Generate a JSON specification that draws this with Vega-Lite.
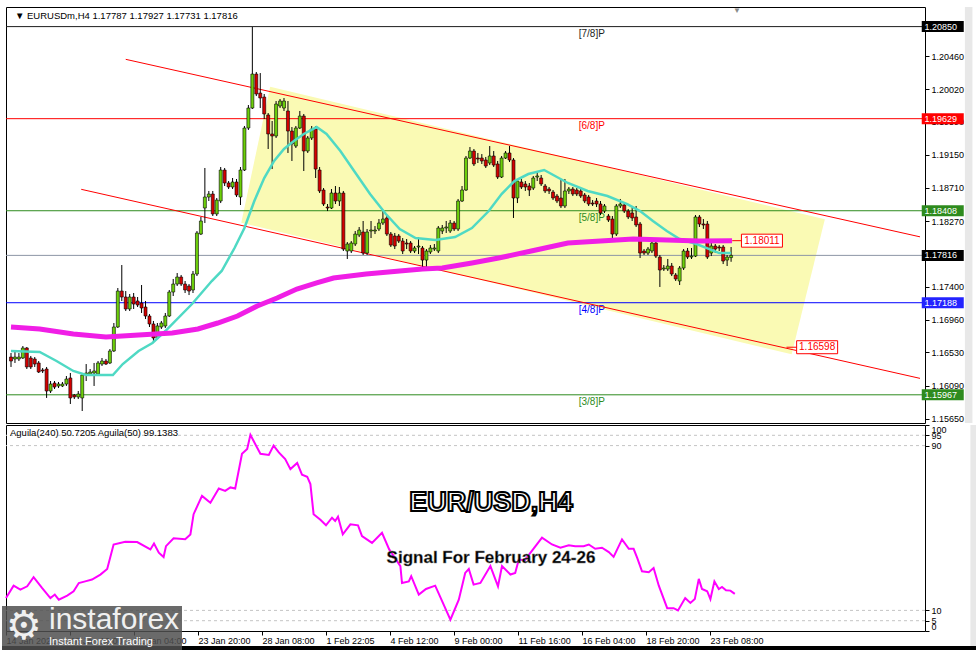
{
"$schema":"https://vega.github.io/schema/vega-lite/v6.json",
"background":"white",
"padding":{"left":0,"top":6,"right":0,"bottom":0},
"spacing":2,
"bounds":"flush",
"config":{"view":{"stroke":"#000","strokeWidth":1},"font":"Liberation Sans","text":{"font":"Liberation Sans"},"axis":{"labelOverlap":false,"labelBound":false}},
"datasets":{
"candles":[
{"i":0,"o":1.16468,"h":1.16521,"l":1.16336,"c":1.16415},
{"i":1,"o":1.16442,"h":1.16548,"l":1.16389,"c":1.16468},
{"i":2,"o":1.16442,"h":1.16521,"l":1.16415,"c":1.16468},
{"i":3,"o":1.16455,"h":1.16614,"l":1.16442,"c":1.16588},
{"i":4,"o":1.16588,"h":1.16601,"l":1.16309,"c":1.16336},
{"i":5,"o":1.16455,"h":1.16482,"l":1.16309,"c":1.16336},
{"i":6,"o":1.16442,"h":1.16468,"l":1.16336,"c":1.16375},
{"i":7,"o":1.16389,"h":1.16415,"l":1.16256,"c":1.16269},
{"i":8,"o":1.16296,"h":1.16322,"l":1.16256,"c":1.16283},
{"i":9,"o":1.16309,"h":1.16336,"l":1.15925,"c":1.16017},
{"i":10,"o":1.16017,"h":1.1615,"l":1.15991,"c":1.1611},
{"i":11,"o":1.16123,"h":1.1615,"l":1.16044,"c":1.1607},
{"i":12,"o":1.16084,"h":1.16137,"l":1.16057,"c":1.1611},
{"i":13,"o":1.16084,"h":1.16137,"l":1.1607,"c":1.1611},
{"i":14,"o":1.1611,"h":1.16216,"l":1.16084,"c":1.16176},
{"i":15,"o":1.1619,"h":1.16256,"l":1.15845,"c":1.15925},
{"i":16,"o":1.15964,"h":1.15978,"l":1.15911,"c":1.15938},
{"i":17,"o":1.15938,"h":1.16017,"l":1.15911,"c":1.15978},
{"i":18,"o":1.15925,"h":1.16256,"l":1.15752,"c":1.16229},
{"i":19,"o":1.16229,"h":1.16375,"l":1.1615,"c":1.16256},
{"i":20,"o":1.16243,"h":1.16309,"l":1.16229,"c":1.16269},
{"i":21,"o":1.16256,"h":1.16389,"l":1.16084,"c":1.16283},
{"i":22,"o":1.16243,"h":1.16415,"l":1.16229,"c":1.16389},
{"i":23,"o":1.16375,"h":1.16455,"l":1.16349,"c":1.16415},
{"i":24,"o":1.16415,"h":1.16442,"l":1.16362,"c":1.16375},
{"i":25,"o":1.16389,"h":1.16574,"l":1.16375,"c":1.16548},
{"i":26,"o":1.16548,"h":1.16919,"l":1.16535,"c":1.16866},
{"i":27,"o":1.16866,"h":1.17383,"l":1.16853,"c":1.17343},
{"i":28,"o":1.17343,"h":1.17688,"l":1.17211,"c":1.17264},
{"i":29,"o":1.17264,"h":1.17343,"l":1.17078,"c":1.17105},
{"i":30,"o":1.17105,"h":1.17304,"l":1.17078,"c":1.17264},
{"i":31,"o":1.17264,"h":1.17317,"l":1.17105,"c":1.17171},
{"i":32,"o":1.17211,"h":1.17264,"l":1.17131,"c":1.17158},
{"i":33,"o":1.17184,"h":1.17423,"l":1.17052,"c":1.17118},
{"i":34,"o":1.17131,"h":1.17211,"l":1.16972,"c":1.17012},
{"i":35,"o":1.17012,"h":1.17038,"l":1.16866,"c":1.16906},
{"i":36,"o":1.16906,"h":1.16946,"l":1.16681,"c":1.1672},
{"i":37,"o":1.1672,"h":1.16919,"l":1.16707,"c":1.1688},
{"i":38,"o":1.16866,"h":1.16946,"l":1.1684,"c":1.16919},
{"i":39,"o":1.1688,"h":1.17052,"l":1.16853,"c":1.17012},
{"i":40,"o":1.17012,"h":1.17357,"l":1.16999,"c":1.1733},
{"i":41,"o":1.1733,"h":1.17503,"l":1.17277,"c":1.17436},
{"i":42,"o":1.17436,"h":1.17582,"l":1.1741,"c":1.17529},
{"i":43,"o":1.17529,"h":1.17556,"l":1.1741,"c":1.17436},
{"i":44,"o":1.17436,"h":1.17476,"l":1.17317,"c":1.17357},
{"i":45,"o":1.1741,"h":1.17436,"l":1.1729,"c":1.17343},
{"i":46,"o":1.17357,"h":1.17609,"l":1.17317,"c":1.17569},
{"i":47,"o":1.17569,"h":1.18139,"l":1.17542,"c":1.18113},
{"i":48,"o":1.18099,"h":1.18325,"l":1.18086,"c":1.18272},
{"i":49,"o":1.18444,"h":1.18975,"l":1.18245,"c":1.1859},
{"i":50,"o":1.1859,"h":1.1867,"l":1.18537,"c":1.1863},
{"i":51,"o":1.1863,"h":1.1867,"l":1.18338,"c":1.18365},
{"i":52,"o":1.18365,"h":1.18577,"l":1.18338,"c":1.1855},
{"i":53,"o":1.18537,"h":1.18988,"l":1.1851,"c":1.18948},
{"i":54,"o":1.18948,"h":1.18975,"l":1.18736,"c":1.18776},
{"i":55,"o":1.18776,"h":1.18802,"l":1.18696,"c":1.18723},
{"i":56,"o":1.18723,"h":1.18842,"l":1.18696,"c":1.18789},
{"i":57,"o":1.18789,"h":1.18829,"l":1.1859,"c":1.18617},
{"i":58,"o":1.1859,"h":1.18988,"l":1.18484,"c":1.18948},
{"i":59,"o":1.18948,"h":1.19532,"l":1.18935,"c":1.19505},
{"i":60,"o":1.19505,"h":1.1981,"l":1.19479,"c":1.1977},
{"i":61,"o":1.1977,"h":1.20845,"l":1.19757,"c":1.20221},
{"i":62,"o":1.20221,"h":1.20248,"l":1.19929,"c":1.19956},
{"i":63,"o":1.19969,"h":1.20234,"l":1.1977,"c":1.19903},
{"i":64,"o":1.19916,"h":1.19956,"l":1.19625,"c":1.19691},
{"i":65,"o":1.19678,"h":1.19704,"l":1.19227,"c":1.19426},
{"i":66,"o":1.19426,"h":1.19598,"l":1.18961,"c":1.19399},
{"i":67,"o":1.19399,"h":1.19863,"l":1.19373,"c":1.19823},
{"i":68,"o":1.19797,"h":1.1989,"l":1.1977,"c":1.19863},
{"i":69,"o":1.1977,"h":1.19903,"l":1.19731,"c":1.19863},
{"i":70,"o":1.19731,"h":1.19863,"l":1.19174,"c":1.19465},
{"i":71,"o":1.19465,"h":1.19518,"l":1.19068,"c":1.19293},
{"i":72,"o":1.19266,"h":1.19532,"l":1.1924,"c":1.19505},
{"i":73,"o":1.19505,"h":1.19731,"l":1.19492,"c":1.19664},
{"i":74,"o":1.19664,"h":1.19691,"l":1.18935,"c":1.192},
{"i":75,"o":1.192,"h":1.19399,"l":1.19174,"c":1.19373},
{"i":76,"o":1.19373,"h":1.19532,"l":1.19346,"c":1.19492},
{"i":77,"o":1.19492,"h":1.19532,"l":1.18842,"c":1.18961},
{"i":78,"o":1.18948,"h":1.18988,"l":1.18643,"c":1.1867},
{"i":79,"o":1.18683,"h":1.18709,"l":1.18471,"c":1.18497},
{"i":80,"o":1.18457,"h":1.18497,"l":1.18404,"c":1.18444},
{"i":81,"o":1.18444,"h":1.18696,"l":1.18431,"c":1.18643},
{"i":82,"o":1.18643,"h":1.18736,"l":1.18497,"c":1.18537},
{"i":83,"o":1.18537,"h":1.18723,"l":1.18471,"c":1.18643},
{"i":84,"o":1.18643,"h":1.1867,"l":1.17874,"c":1.179},
{"i":85,"o":1.17874,"h":1.17993,"l":1.17768,"c":1.17967},
{"i":86,"o":1.17874,"h":1.18006,"l":1.17847,"c":1.1798},
{"i":87,"o":1.17967,"h":1.18139,"l":1.1794,"c":1.18099},
{"i":88,"o":1.18086,"h":1.18192,"l":1.18059,"c":1.18152},
{"i":89,"o":1.18126,"h":1.18272,"l":1.17821,"c":1.17847},
{"i":90,"o":1.17847,"h":1.18166,"l":1.17821,"c":1.18126},
{"i":91,"o":1.18139,"h":1.18272,"l":1.18046,"c":1.18152},
{"i":92,"o":1.18139,"h":1.18205,"l":1.18099,"c":1.18152},
{"i":93,"o":1.18166,"h":1.18298,"l":1.18139,"c":1.18245},
{"i":94,"o":1.18245,"h":1.18404,"l":1.18219,"c":1.18298},
{"i":95,"o":1.18312,"h":1.18351,"l":1.18073,"c":1.18099},
{"i":96,"o":1.18099,"h":1.18126,"l":1.17927,"c":1.17953},
{"i":97,"o":1.18073,"h":1.18113,"l":1.179,"c":1.1794},
{"i":98,"o":1.18073,"h":1.18099,"l":1.1798,"c":1.18006},
{"i":99,"o":1.18006,"h":1.18046,"l":1.17834,"c":1.17874},
{"i":100,"o":1.1798,"h":1.18033,"l":1.179,"c":1.17967},
{"i":101,"o":1.1798,"h":1.18006,"l":1.17847,"c":1.17874},
{"i":102,"o":1.17874,"h":1.1794,"l":1.17847,"c":1.17914},
{"i":103,"o":1.17927,"h":1.18059,"l":1.17834,"c":1.1794},
{"i":104,"o":1.17914,"h":1.1794,"l":1.17662,"c":1.17754},
{"i":105,"o":1.17754,"h":1.179,"l":1.17662,"c":1.17874},
{"i":106,"o":1.17861,"h":1.17953,"l":1.17834,"c":1.17914},
{"i":107,"o":1.179,"h":1.17967,"l":1.17874,"c":1.17914},
{"i":108,"o":1.17874,"h":1.18205,"l":1.17847,"c":1.18179},
{"i":109,"o":1.18139,"h":1.18219,"l":1.18099,"c":1.18179},
{"i":110,"o":1.18179,"h":1.18272,"l":1.18113,"c":1.18192},
{"i":111,"o":1.18139,"h":1.18285,"l":1.18113,"c":1.18245},
{"i":112,"o":1.18245,"h":1.18272,"l":1.18139,"c":1.18166},
{"i":113,"o":1.18166,"h":1.18564,"l":1.18139,"c":1.18537},
{"i":114,"o":1.18537,"h":1.18736,"l":1.18524,"c":1.18683},
{"i":115,"o":1.18683,"h":1.19134,"l":1.1867,"c":1.19107},
{"i":116,"o":1.19107,"h":1.19253,"l":1.19094,"c":1.192},
{"i":117,"o":1.192,"h":1.19227,"l":1.19001,"c":1.19028},
{"i":118,"o":1.19107,"h":1.19174,"l":1.19041,"c":1.19094},
{"i":119,"o":1.19107,"h":1.1916,"l":1.19028,"c":1.19068},
{"i":120,"o":1.19081,"h":1.19121,"l":1.18975,"c":1.19001},
{"i":121,"o":1.19041,"h":1.19266,"l":1.19014,"c":1.19134},
{"i":122,"o":1.19134,"h":1.192,"l":1.18988,"c":1.19014},
{"i":123,"o":1.19028,"h":1.19068,"l":1.18829,"c":1.18855},
{"i":124,"o":1.18855,"h":1.19134,"l":1.18842,"c":1.19107},
{"i":125,"o":1.19107,"h":1.192,"l":1.19094,"c":1.19174},
{"i":126,"o":1.19174,"h":1.19266,"l":1.19054,"c":1.19081},
{"i":127,"o":1.19081,"h":1.19107,"l":1.18312,"c":1.18577},
{"i":128,"o":1.18577,"h":1.18829,"l":1.1851,"c":1.18802},
{"i":129,"o":1.18789,"h":1.18829,"l":1.18696,"c":1.18723},
{"i":130,"o":1.18763,"h":1.18802,"l":1.1867,"c":1.18723},
{"i":131,"o":1.18736,"h":1.18776,"l":1.18603,"c":1.18683},
{"i":132,"o":1.18709,"h":1.18869,"l":1.18683,"c":1.18842},
{"i":133,"o":1.18855,"h":1.18908,"l":1.18802,"c":1.18869},
{"i":134,"o":1.18842,"h":1.18882,"l":1.18736,"c":1.18763},
{"i":135,"o":1.18736,"h":1.18763,"l":1.18643,"c":1.1867},
{"i":136,"o":1.18696,"h":1.18723,"l":1.1863,"c":1.1867},
{"i":137,"o":1.18656,"h":1.18683,"l":1.1855,"c":1.18577},
{"i":138,"o":1.18603,"h":1.1863,"l":1.1851,"c":1.18537},
{"i":139,"o":1.18577,"h":1.18829,"l":1.18444,"c":1.18471},
{"i":140,"o":1.18471,"h":1.18829,"l":1.18444,"c":1.1867},
{"i":141,"o":1.1867,"h":1.18723,"l":1.1863,"c":1.18696},
{"i":142,"o":1.18696,"h":1.18723,"l":1.18603,"c":1.1863},
{"i":143,"o":1.18683,"h":1.18709,"l":1.18603,"c":1.1863},
{"i":144,"o":1.1867,"h":1.18696,"l":1.18577,"c":1.18603},
{"i":145,"o":1.18617,"h":1.18643,"l":1.1851,"c":1.18537},
{"i":146,"o":1.1859,"h":1.18617,"l":1.18471,"c":1.18497},
{"i":147,"o":1.1851,"h":1.1855,"l":1.18471,"c":1.18497},
{"i":148,"o":1.18537,"h":1.18577,"l":1.18457,"c":1.18497},
{"i":149,"o":1.18497,"h":1.18537,"l":1.18351,"c":1.18378},
{"i":150,"o":1.18404,"h":1.18497,"l":1.18378,"c":1.18471},
{"i":151,"o":1.18338,"h":1.18365,"l":1.18259,"c":1.18285},
{"i":152,"o":1.18298,"h":1.18338,"l":1.18046,"c":1.18099},
{"i":153,"o":1.18099,"h":1.18497,"l":1.18073,"c":1.18471},
{"i":154,"o":1.18471,"h":1.18564,"l":1.18444,"c":1.18497},
{"i":155,"o":1.18484,"h":1.1851,"l":1.18378,"c":1.18404},
{"i":156,"o":1.18404,"h":1.18431,"l":1.18298,"c":1.18325},
{"i":157,"o":1.18378,"h":1.18471,"l":1.18272,"c":1.18312},
{"i":158,"o":1.18325,"h":1.18471,"l":1.18192,"c":1.18219},
{"i":159,"o":1.18232,"h":1.18259,"l":1.17781,"c":1.17847},
{"i":160,"o":1.17874,"h":1.179,"l":1.17821,"c":1.17847},
{"i":161,"o":1.17847,"h":1.17927,"l":1.17821,"c":1.179},
{"i":162,"o":1.17874,"h":1.18006,"l":1.17847,"c":1.1798},
{"i":163,"o":1.1798,"h":1.18033,"l":1.17781,"c":1.17807},
{"i":164,"o":1.17794,"h":1.17821,"l":1.17397,"c":1.17622},
{"i":165,"o":1.17635,"h":1.17688,"l":1.17609,"c":1.17648},
{"i":166,"o":1.17635,"h":1.17768,"l":1.17609,"c":1.17675},
{"i":167,"o":1.17675,"h":1.17715,"l":1.17542,"c":1.17569},
{"i":168,"o":1.17556,"h":1.17582,"l":1.17476,"c":1.17503},
{"i":169,"o":1.17476,"h":1.17675,"l":1.17423,"c":1.17648},
{"i":170,"o":1.17648,"h":1.179,"l":1.17622,"c":1.17874},
{"i":171,"o":1.17874,"h":1.17914,"l":1.17768,"c":1.17794},
{"i":172,"o":1.17794,"h":1.17914,"l":1.17768,"c":1.17807},
{"i":173,"o":1.17807,"h":1.18351,"l":1.17794,"c":1.18325},
{"i":174,"o":1.18325,"h":1.18351,"l":1.18192,"c":1.18232},
{"i":175,"o":1.18232,"h":1.18298,"l":1.18166,"c":1.18219},
{"i":176,"o":1.18232,"h":1.18272,"l":1.17768,"c":1.17794},
{"i":177,"o":1.17847,"h":1.18006,"l":1.17807,"c":1.1794},
{"i":178,"o":1.1794,"h":1.17967,"l":1.17847,"c":1.179},
{"i":179,"o":1.17927,"h":1.17953,"l":1.17874,"c":1.17914},
{"i":180,"o":1.17927,"h":1.17953,"l":1.17701,"c":1.17741},
{"i":181,"o":1.17754,"h":1.17821,"l":1.17675,"c":1.17794},
{"i":182,"o":1.17787,"h":1.17927,"l":1.17731,"c":1.17816}
],
"cyan":[
{"i":0,"p":1.16548},{"i":7.25,"p":1.16535},{"i":11.5,"p":1.16415},{"i":15.75,"p":1.16283},{"i":19,"p":1.16229},{"i":25.75,"p":1.16229},{"i":28.25,"p":1.16375},{"i":32.25,"p":1.16548},{"i":35.75,"p":1.16654},{"i":39,"p":1.16813},{"i":45.75,"p":1.17171},{"i":50.75,"p":1.17476},{"i":53.25,"p":1.17609},{"i":56.5,"p":1.17914},{"i":59,"p":1.18179},{"i":61.5,"p":1.18537},{"i":64,"p":1.18842},{"i":66.5,"p":1.19068},{"i":69,"p":1.19227},{"i":71.5,"p":1.19333},{"i":74,"p":1.19426},{"i":77.25,"p":1.19518},{"i":79.75,"p":1.19426},{"i":83.25,"p":1.192},{"i":87.25,"p":1.18895},{"i":90.75,"p":1.1863},{"i":94.75,"p":1.18365},{"i":98.25,"p":1.18166},{"i":102.25,"p":1.18046},{"i":107.25,"p":1.1802},{"i":112.25,"p":1.18059},{"i":116.5,"p":1.18179},{"i":120.75,"p":1.18404},{"i":124,"p":1.1863},{"i":127.25,"p":1.18802},{"i":130.75,"p":1.18895},{"i":134.75,"p":1.18948},{"i":140.75,"p":1.18776},{"i":145.75,"p":1.1867},{"i":150.75,"p":1.18603},{"i":155.75,"p":1.18497},{"i":159,"p":1.18404},{"i":162.25,"p":1.18272},{"i":165.75,"p":1.18139},{"i":169,"p":1.18033},{"i":173.25,"p":1.17967},{"i":176.5,"p":1.179},{"i":179,"p":1.17847},{"i":182,"p":1.17847}
],
"magenta":[
{"i":0,"p":1.16866},{"i":7.25,"p":1.1684},{"i":15.75,"p":1.16773},{"i":24,"p":1.16734},{"i":32.25,"p":1.1676},{"i":40.75,"p":1.16787},{"i":47.25,"p":1.1684},{"i":52.25,"p":1.16919},{"i":57.25,"p":1.17012},{"i":62.25,"p":1.17145},{"i":67.25,"p":1.17251},{"i":72.25,"p":1.1737},{"i":77.25,"p":1.1745},{"i":81.5,"p":1.17516},{"i":89.75,"p":1.17569},{"i":98.25,"p":1.17609},{"i":104,"p":1.17635},{"i":109,"p":1.17648},{"i":116.5,"p":1.17715},{"i":123.25,"p":1.17781},{"i":131.5,"p":1.17874},{"i":140.75,"p":1.1798},{"i":149,"p":1.18006},{"i":157.25,"p":1.18033},{"i":165.75,"p":1.1802},{"i":174,"p":1.18006},{"i":182.25,"p":1.18011}
],
"chan":[
{"g":"u","i":29,"p":1.20416},{"g":"u","i":229.75,"p":1.18062},
{"g":"l","i":17.75,"p":1.18692},{"g":"l","i":229.75,"p":1.16185}
],
"poly":[
{"k":0,"i":65.5,"p":1.20053},{"k":1,"i":205.7,"p":1.18294},{"k":2,"i":197.3,"p":1.16504},{"k":3,"i":58.2,"p":1.18249}
],
"levels":[
{"name":"7/8","v":1.2085,"lab":"[7/8]P","box":"1.20850"},
{"name":"6/8","v":1.19629,"lab":"[6/8]P","box":"1.19629"},
{"name":"5/8","v":1.18408,"lab":"[5/8]P","box":"1.18408"},
{"name":"bid","v":1.17816,"lab":"","box":"1.17816"},
{"name":"4/8","v":1.17188,"lab":"[4/8]P","box":"1.17188"},
{"name":"3/8","v":1.15967,"lab":"[3/8]P","box":"1.15967"}
],
"tags":[
{"lab":"1.18011","p":1.18011,"i":189.8,"a":182.3,"b":184.8},
{"lab":"1.16598","p":1.16598,"i":203.75,"a":196,"b":198.75}
],
"agu":[
{"i":0,"v":16.0},{"i":1.9,"v":22.0},{"i":3.6,"v":20.1},{"i":5.3,"v":21.7},{"i":6.9,"v":26.1},{"i":9,"v":20.9},{"i":11.1,"v":16.0},{"i":12.2,"v":17.7},{"i":13.2,"v":15.2},{"i":15.3,"v":17.2},{"i":16.9,"v":19.3},{"i":18.2,"v":23.3},{"i":19.8,"v":24.1},{"i":21.5,"v":25.0},{"i":23.6,"v":27.4},{"i":25.3,"v":30.1},{"i":26.9,"v":42.0},{"i":29.8,"v":43.3},{"i":32.8,"v":43.2},{"i":36.1,"v":39.6},{"i":37,"v":42.5},{"i":38.2,"v":38.0},{"i":39.4,"v":35.9},{"i":40,"v":41.2},{"i":41.9,"v":45.0},{"i":44.8,"v":44.5},{"i":46.1,"v":46.9},{"i":46.9,"v":56.7},{"i":49,"v":65.6},{"i":51.1,"v":62.3},{"i":53.2,"v":69.2},{"i":54.8,"v":68.0},{"i":56.1,"v":69.7},{"i":57.3,"v":69.2},{"i":59,"v":86.0},{"i":60.3,"v":88.4},{"i":61.1,"v":95.2},{"i":62.3,"v":90.8},{"i":63.6,"v":86.0},{"i":65.7,"v":85.5},{"i":66.9,"v":90.0},{"i":68.2,"v":86.7},{"i":69.8,"v":83.5},{"i":71.1,"v":78.6},{"i":72.8,"v":81.6},{"i":74,"v":75.9},{"i":75.3,"v":74.9},{"i":76.1,"v":71.3},{"i":76.9,"v":56.7},{"i":78.6,"v":54.0},{"i":80,"v":51.3},{"i":81.5,"v":55.0},{"i":82.3,"v":53.4},{"i":83,"v":55.5},{"i":84.2,"v":46.9},{"i":86.1,"v":51.8},{"i":88,"v":51.3},{"i":89,"v":46.1},{"i":91.5,"v":42.8},{"i":94,"v":47.7},{"i":95.8,"v":39.6},{"i":98.6,"v":31.5},{"i":99,"v":23.3},{"i":100.7,"v":24.1},{"i":101.3,"v":26.6},{"i":103.2,"v":17.7},{"i":105,"v":20.4},{"i":107.3,"v":22.0},{"i":111.1,"v":5.5},{"i":113.2,"v":15.2},{"i":114.8,"v":28.2},{"i":115.7,"v":30.1},{"i":116.9,"v":22.5},{"i":118.6,"v":23.3},{"i":121.1,"v":31.5},{"i":123,"v":21.7},{"i":124,"v":31.5},{"i":126.1,"v":27.4},{"i":127.3,"v":28.2},{"i":128.2,"v":34.7},{"i":129.7,"v":34.4},{"i":134,"v":45.3},{"i":136.5,"v":42.0},{"i":138.6,"v":40.4},{"i":140.7,"v":41.6},{"i":142.3,"v":41.2},{"i":144.4,"v":41.2},{"i":145.7,"v":42.0},{"i":147.3,"v":39.9},{"i":149,"v":40.4},{"i":150.7,"v":38.3},{"i":151.9,"v":36.0},{"i":154,"v":44.5},{"i":155.7,"v":39.9},{"i":156.9,"v":39.9},{"i":157.8,"v":35.5},{"i":159,"v":29.0},{"i":160.7,"v":28.5},{"i":161.9,"v":30.6},{"i":163.2,"v":22.0},{"i":165.3,"v":11.1},{"i":166.9,"v":11.1},{"i":168,"v":10.0},{"i":169.8,"v":16.0},{"i":171.1,"v":13.6},{"i":172.2,"v":15.5},{"i":173.2,"v":25.3},{"i":174,"v":20.4},{"i":175.3,"v":19.3},{"i":176.1,"v":15.5},{"i":177.1,"v":24.1},{"i":178.2,"v":20.4},{"i":179,"v":21.4},{"i":180,"v":19.8},{"i":181.1,"v":19.6},{"i":182.2,"v":18.0}
]
},
"vconcat":[
{
"width":919,"height":416,
"layer":[
{"data":{"name":"levels"},"mark":{"type":"rule","strokeWidth":1,"opacity":0},
 "encoding":{"y":{"field":"v","type":"quantitative","scale":{"domain":[1.15593,1.2111],"nice":false,"zero":false},
  "axis":{"orient":"right","values":[1.2046,1.2002,1.1959,1.1915,1.1871,1.1827,1.174,1.1696,1.1653,1.1609,1.1565],"tickCount":30,"format":".5f","tickSize":4,"tickColor":"#000","labelPadding":2,"labelOverlap":false,"labelBound":false,"labelFlush":false,"labelFont":"Liberation Sans","labelFontSize":9,"labelColor":"#000","domain":false,"grid":false,"title":null,"zindex":0}}}},
{"data":{"values":[{}]},"mark":{"type":"rect","color":"#e8e8e8","clip":false},
 "encoding":{"x":{"datum":241.1,"type":"quantitative","scale":{"domain":[0,229.75],"nice":false,"zero":false},"axis":null},
 "x2":{"datum":243},
 "y":{"datum":1.2111,"type":"quantitative","scale":{"domain":[1.15593,1.2111],"nice":false,"zero":false}},
 "y2":{"datum":1.15593}}},
{"data":{"name":"poly"},"mark":{"type":"line","fill":"#fafab4","strokeWidth":0},
 "encoding":{"x":{"field":"i","type":"quantitative","scale":{"domain":[0,229.75],"nice":false,"zero":false},"axis":null},
 "y":{"field":"p","type":"quantitative","scale":{"domain":[1.15593,1.2111],"nice":false,"zero":false}},
 "order":{"field":"k","type":"quantitative"}}},
{"data":{"name":"levels"},"mark":{"type":"rule","strokeWidth":1},
 "encoding":{"y":{"field":"v","type":"quantitative","scale":{"domain":[1.15593,1.2111],"nice":false,"zero":false}},
 "color":{"field":"name","type":"nominal","scale":{"domain":["7/8","6/8","5/8","bid","4/8","3/8"],"range":["#1e1e1e","#ff0000","#2e8b1e","#8c96a5","#0000ff","#2e8b1e"]},"legend":null}}},
{"data":{"name":"levels"},"mark":{"type":"text","align":"left","baseline":"top","dy":2,"fontSize":10,"font":"Liberation Sans"},
 "encoding":{"x":{"datum":143.5,"type":"quantitative","scale":{"domain":[0,229.75],"nice":false,"zero":false},"axis":null},
 "y":{"field":"v","type":"quantitative","scale":{"domain":[1.15593,1.2111],"nice":false,"zero":false}},
 "text":{"field":"lab"},
 "color":{"field":"name","type":"nominal","scale":{"domain":["7/8","6/8","5/8","bid","4/8","3/8"],"range":["#1e1e1e","#ff0000","#2e8b1e","#8c96a5","#0000ff","#2e8b1e"]},"legend":null}}},
{"data":{"name":"chan"},"mark":{"type":"line","color":"#ff0000","strokeWidth":1},
 "encoding":{"x":{"field":"i","type":"quantitative","scale":{"domain":[0,229.75],"nice":false,"zero":false},"axis":null},
 "y":{"field":"p","type":"quantitative","scale":{"domain":[1.15593,1.2111],"nice":false,"zero":false}},
 "detail":{"field":"g"}}},
{"data":{"name":"candles"},"mark":{"type":"rule","color":"#000","strokeWidth":1},
 "encoding":{"x":{"field":"i","type":"quantitative","scale":{"domain":[0,229.75],"nice":false,"zero":false},"axis":null},
 "y":{"field":"l","type":"quantitative","scale":{"domain":[1.15593,1.2111],"nice":false,"zero":false}},
 "y2":{"field":"h"}}},
{"data":{"name":"candles"},"mark":{"type":"bar","size":3,"stroke":"#000","strokeWidth":0.6},
 "encoding":{"x":{"field":"i","type":"quantitative","scale":{"domain":[0,229.75],"nice":false,"zero":false},"axis":null},
 "y":{"field":"o","type":"quantitative","scale":{"domain":[1.15593,1.2111],"nice":false,"zero":false}},
 "y2":{"field":"c"},
 "color":{"condition":{"test":"datum.c >= datum.o","value":"#6ccf0a"},"value":"#d40000"}}},
{"data":{"name":"cyan"},"mark":{"type":"line","color":"#4fd9c4","strokeWidth":2.5},
 "encoding":{"x":{"field":"i","type":"quantitative","scale":{"domain":[0,229.75],"nice":false,"zero":false},"axis":null},
 "y":{"field":"p","type":"quantitative","scale":{"domain":[1.15593,1.2111],"nice":false,"zero":false}}}},
{"data":{"name":"magenta"},"mark":{"type":"line","color":"#f01ee6","strokeWidth":5},
 "encoding":{"x":{"field":"i","type":"quantitative","scale":{"domain":[0,229.75],"nice":false,"zero":false},"axis":null},
 "y":{"field":"p","type":"quantitative","scale":{"domain":[1.15593,1.2111],"nice":false,"zero":false}}}},
{"data":{"name":"tags"},"mark":{"type":"rule","color":"#ff0000","strokeWidth":1},
 "encoding":{"x":{"field":"a","type":"quantitative","scale":{"domain":[0,229.75],"nice":false,"zero":false},"axis":null},
 "x2":{"field":"b"},
 "y":{"field":"p","type":"quantitative","scale":{"domain":[1.15593,1.2111],"nice":false,"zero":false}}}},
{"data":{"name":"tags"},"mark":{"type":"rect","width":41,"height":13,"fill":"#ffffff","stroke":"#ff0000","strokeWidth":1},
 "encoding":{"x":{"field":"i","type":"quantitative","scale":{"domain":[0,229.75],"nice":false,"zero":false},"axis":null},
 "y":{"field":"p","type":"quantitative","scale":{"domain":[1.15593,1.2111],"nice":false,"zero":false}}}},
{"data":{"name":"tags"},"mark":{"type":"text","align":"center","baseline":"middle","fontSize":10,"color":"#ff0000"},
 "encoding":{"x":{"field":"i","type":"quantitative","scale":{"domain":[0,229.75],"nice":false,"zero":false},"axis":null},
 "y":{"field":"p","type":"quantitative","scale":{"domain":[1.15593,1.2111],"nice":false,"zero":false}},
 "text":{"field":"lab"}}},
{"data":{"name":"levels"},"mark":{"type":"rect","width":42,"height":11,"clip":false},
 "encoding":{"x":{"datum":235.5,"type":"quantitative","scale":{"domain":[0,229.75],"nice":false,"zero":false},"axis":null},
 "y":{"field":"v","type":"quantitative","scale":{"domain":[1.15593,1.2111],"nice":false,"zero":false}},
 "fill":{"field":"name","type":"nominal","scale":{"domain":["7/8","6/8","5/8","bid","4/8","3/8"],"range":["#000000","#ff0000","#2e8b1e","#000000","#2424ff","#2e8b1e"]},"legend":null}}},
{"data":{"name":"levels"},"mark":{"type":"text","align":"left","baseline":"middle","fontSize":9,"color":"#ffffff","clip":false},
 "encoding":{"x":{"datum":230.9,"type":"quantitative","scale":{"domain":[0,229.75],"nice":false,"zero":false},"axis":null},
 "y":{"field":"v","type":"quantitative","scale":{"domain":[1.15593,1.2111],"nice":false,"zero":false}},
 "text":{"field":"box"}}},
{"data":{"values":[{}]},"mark":{"type":"text","align":"left","baseline":"middle","fontSize":9.5,"color":"#000","text":"▼  EURUSDm,H4  1.17787 1.17927 1.17731 1.17816"},
 "encoding":{"x":{"datum":1,"type":"quantitative","scale":{"domain":[0,229.75],"nice":false,"zero":false},"axis":null},
 "y":{"datum":1.20991,"type":"quantitative","scale":{"domain":[1.15593,1.2111],"nice":false,"zero":false}}}},
{"data":{"values":[{}]},"mark":{"type":"text","align":"center","baseline":"top","fontSize":8,"color":"#8a8a8a","text":"▼"},
 "encoding":{"x":{"datum":183.5,"type":"quantitative","scale":{"domain":[0,229.75],"nice":false,"zero":false},"axis":null},
 "y":{"datum":1.2111,"type":"quantitative","scale":{"domain":[1.15593,1.2111],"nice":false,"zero":false}}}}
]
},
{
"width":919,"height":206,
"layer":[
{"data":{"name":"agu"},"mark":{"type":"line","color":"#ff00ff","strokeWidth":2,"opacity":0},
 "encoding":{"x":{"field":"i","type":"quantitative","scale":{"domain":[0,229.75],"nice":false,"zero":false},
  "axis":{"orient":"bottom","values":[0,16,32,48,64,80,96,112,128,144,160,176],"tickCount":30,"labelExpr":"['14 Jan 2021','18 Jan 12:00','21 Jan 04:00','23 Jan 20:00','28 Jan 08:00','1 Feb 22:05','4 Feb 12:00','9 Feb 00:00','11 Feb 16:00','16 Feb 04:00','18 Feb 20:00','23 Feb 08:00'][round(datum.value/16)]","labelAlign":"left","labelPadding":1,"tickSize":4,"tickColor":"#000","labelOverlap":false,"labelFlush":false,"labelBound":false,"labelFont":"Liberation Sans","labelFontSize":9,"labelColor":"#000","domain":false,"grid":false,"title":null,"zindex":0}},
 "y":{"field":"v","type":"quantitative","scale":{"domain":[0,100],"nice":false,"zero":false},
  "axis":{"orient":"right","values":[0,5,10,90,95,100],"tickCount":20,"tickSize":4,"tickColor":"#000","labelPadding":2,"labelOverlap":false,"labelFlush":true,"labelBound":false,"labelFont":"Liberation Sans","labelFontSize":9,"labelColor":"#000","domain":false,"grid":false,"title":null,"zindex":0}}}},
{"data":{"values":[{}]},"mark":{"type":"rect","color":"#e8e8e8","clip":false},
 "encoding":{"x":{"datum":241.1,"type":"quantitative","scale":{"domain":[0,229.75],"nice":false,"zero":false}},
 "x2":{"datum":243},
 "y":{"datum":100,"type":"quantitative","scale":{"domain":[0,100],"nice":false,"zero":false}},
 "y2":{"datum":-7.3}}},
{"data":{"values":[{"v":5},{"v":10},{"v":90},{"v":95}]},"mark":{"type":"rule","color":"#c4c4c4","strokeDash":[3,3],"strokeWidth":1},
 "encoding":{"y":{"field":"v","type":"quantitative","scale":{"domain":[0,100],"nice":false,"zero":false}}}},
{"data":{"name":"agu"},"mark":{"type":"line","color":"#ff00ff","strokeWidth":2},
 "encoding":{"x":{"field":"i","type":"quantitative","scale":{"domain":[0,229.75],"nice":false,"zero":false}},
 "y":{"field":"v","type":"quantitative","scale":{"domain":[0,100],"nice":false,"zero":false}}}},
{"data":{"values":[{}]},"mark":{"type":"text","align":"left","baseline":"middle","fontSize":9.5,"color":"#000","text":"Aguila(240) 50.7205  Aguila(50) 99.1383"},
 "encoding":{"x":{"datum":1,"type":"quantitative","scale":{"domain":[0,229.75],"nice":false,"zero":false}},
 "y":{"datum":96.1,"type":"quantitative","scale":{"domain":[0,100],"nice":false,"zero":false}}}},
{"data":{"values":[{}]},"mark":{"type":"text","align":"center","baseline":"middle","fontSize":27,"fontWeight":"bold","fill":"#ffffff","stroke":"#000000","strokeWidth":2,"text":"EUR/USD,H4"},
 "encoding":{"x":{"datum":121.25,"type":"quantitative","scale":{"domain":[0,229.75],"nice":false,"zero":false}},
 "y":{"datum":62.1,"type":"quantitative","scale":{"domain":[0,100],"nice":false,"zero":false}}}},
{"data":{"values":[{}]},"mark":{"type":"text","align":"center","baseline":"middle","fontSize":17,"fontWeight":"bold","fill":"#000000","stroke":"#7a7a7a","strokeWidth":0.4,"text":"Signal For February 24-26"},
 "encoding":{"x":{"datum":121.25,"type":"quantitative","scale":{"domain":[0,229.75],"nice":false,"zero":false}},
 "y":{"datum":35.4,"type":"quantitative","scale":{"domain":[0,100],"nice":false,"zero":false}}}},
{"data":{"values":[{}]},"mark":{"type":"rect","color":"#000000","clip":false},
 "encoding":{"x":{"datum":-1,"type":"quantitative","scale":{"domain":[0,229.75],"nice":false,"zero":false}},
 "x2":{"datum":243},
 "y":{"datum":-7.3,"type":"quantitative","scale":{"domain":[0,100],"nice":false,"zero":false}},
 "y2":{"datum":-9.7}}},
{"data":{"values":[{}]},"mark":{"type":"rect","color":"#505050","opacity":0.85,"clip":false},
 "encoding":{"x":{"datum":-1,"type":"quantitative","scale":{"domain":[0,229.75],"nice":false,"zero":false}},
 "x2":{"datum":44},
 "y":{"datum":12.1,"type":"quantitative","scale":{"domain":[0,100],"nice":false,"zero":false}},
 "y2":{"datum":-9.7}}},
{"data":{"values":[{}]},"mark":{"type":"text","align":"center","baseline":"middle","fontSize":40,"font":"DejaVu Sans","color":"#f0f0f0","text":"⚙","clip":false},
 "encoding":{"x":{"datum":4.5,"type":"quantitative","scale":{"domain":[0,229.75],"nice":false,"zero":false}},
 "y":{"datum":1.9,"type":"quantitative","scale":{"domain":[0,100],"nice":false,"zero":false}}}},
{"data":{"values":[{}]},"mark":{"type":"text","align":"left","baseline":"middle","fontSize":30,"color":"#f0f0f0","text":"instaforex","clip":false},
 "encoding":{"x":{"datum":10.75,"type":"quantitative","scale":{"domain":[0,229.75],"nice":false,"zero":false}},
 "y":{"datum":5.3,"type":"quantitative","scale":{"domain":[0,100],"nice":false,"zero":false}}}},
{"data":{"values":[{}]},"mark":{"type":"text","align":"left","baseline":"middle","fontSize":11,"color":"#ffffff","text":"Instant Forex Trading","clip":false},
 "encoding":{"x":{"datum":10.75,"type":"quantitative","scale":{"domain":[0,229.75],"nice":false,"zero":false}},
 "y":{"datum":-5.3,"type":"quantitative","scale":{"domain":[0,100],"nice":false,"zero":false}}}}
]
}
]
}
